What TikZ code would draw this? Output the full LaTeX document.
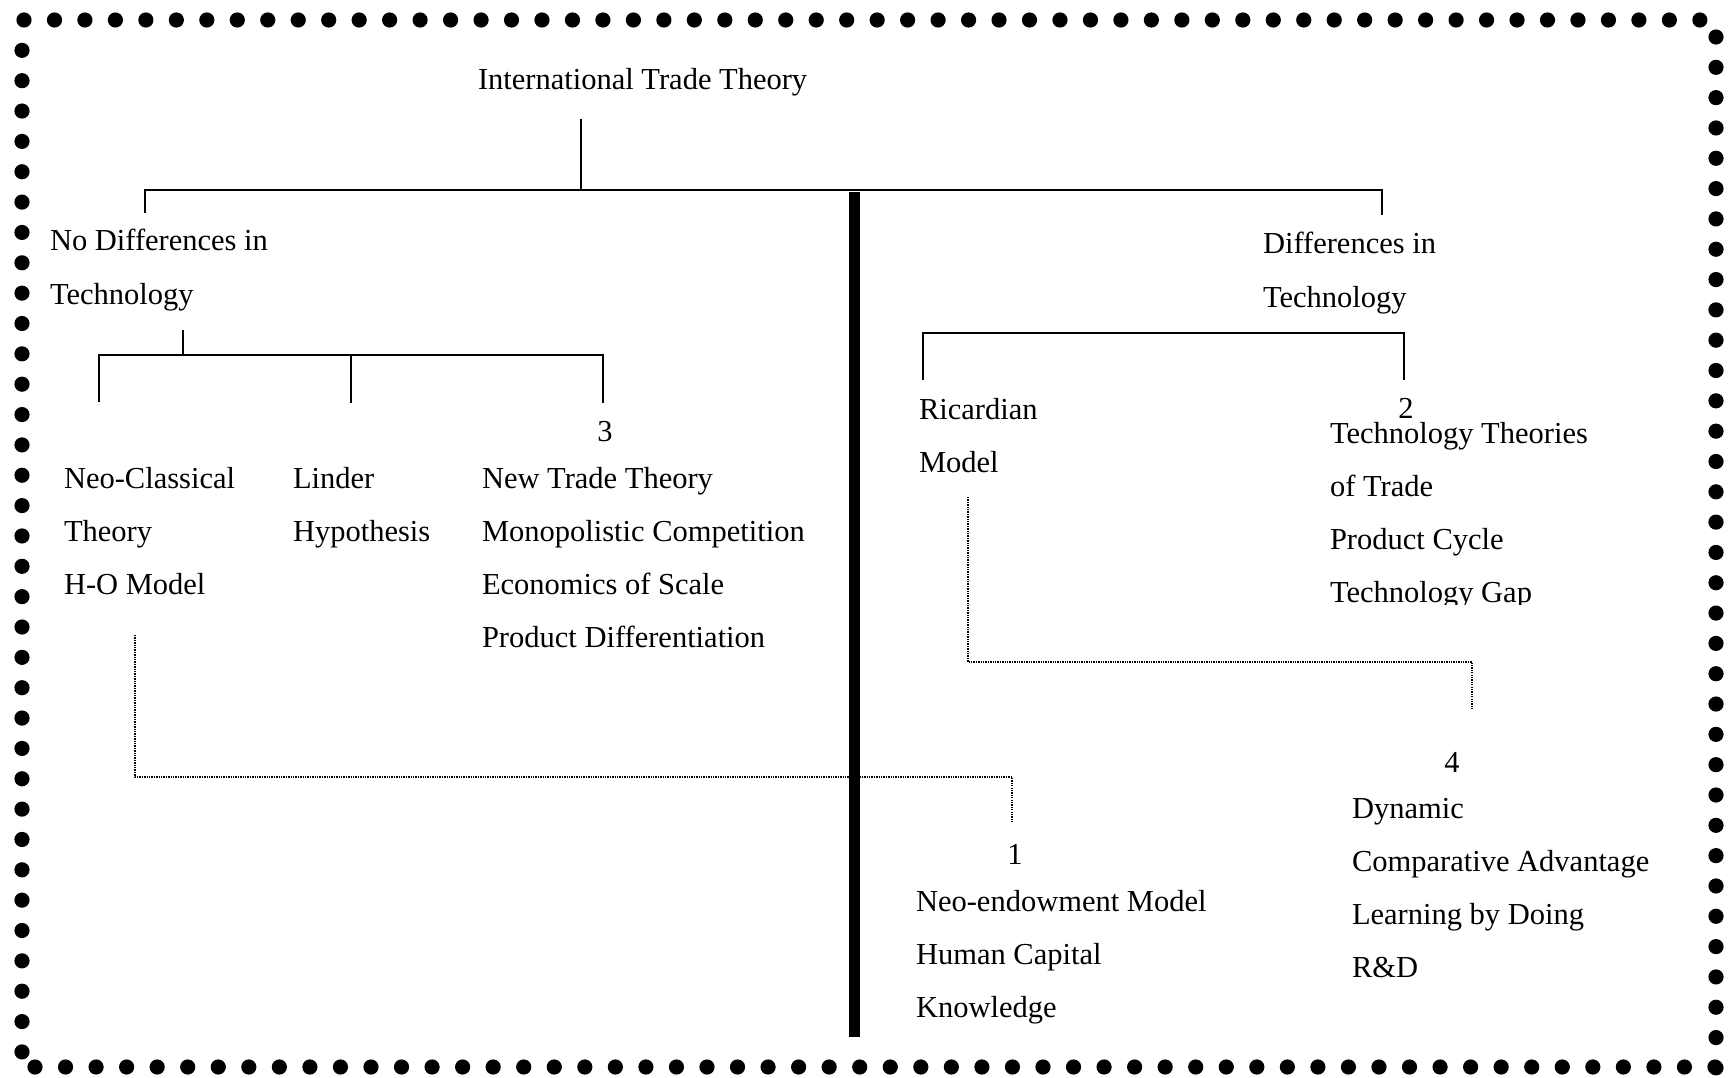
\documentclass[tikz,border=0pt]{standalone}
\usepackage{fontspec}
\setmainfont{Liberation Serif}
% left-aligned stack of lines whose baseline is that of the first line
\newcommand{\txtstack}[1]{\begin{tabular}[t]{@{}l@{}}#1\end{tabular}}
\begin{document}
\begin{tikzpicture}[x=1pt,y=-1pt,
  lbl/.style={inner sep=0pt, outer sep=0pt, font=\fontsize{30.5}{53.3}\selectfont, anchor=base west},
  num/.style={lbl, anchor=base},
  branch/.style={line width=2pt},
  divider/.style={line width=11pt},
  link/.style={line width=2.2pt, dash pattern=on 1.3pt off 1.1pt},
  bead/.style={fill=black}]

\fill[white] (0,0) rectangle (1733,1078);
\useasboundingbox (0,0) rectangle (1733,1078);

% beaded frame
\foreach \i in {0,...,55} \fill[bead] (24+\i*30.47,20) circle (7.6);
\foreach \i in {0,...,34} \fill[bead] (1716,37+\i*30.32) circle (7.6);
\foreach \i in {0,...,55} \fill[bead] (35+\i*30.545,1067) circle (7.6);
\foreach \i in {1,...,34} \fill[bead] (22,20+\i*30.35) circle (7.6);

% labels
\node[lbl] (title) at (478,90) {International Trade Theory};
\node[lbl] (nodiff) at (50,251) {\txtstack{No Differences in\\Technology}};
\node[lbl] (diff) at (1263,254) {\txtstack{Differences in\\Technology}};

\node[lbl] (neo) at (64,488) {\txtstack{Neo-Classical\\Theory\\H-O Model}};
\node[lbl] (linder) at (293,488) {\txtstack{Linder\\Hypothesis}};
\node[num] (three) at (605,441) {3};
\node[lbl] (ntt) at (482,488) {\txtstack{New Trade Theory\\Monopolistic Competition\\Economics of Scale\\Product Differentiation}};

\node[lbl] (ric) at (919,419) {\txtstack{Ricardian\\Model}};
\node[num] (two) at (1406,418) {2};
\begin{scope}
  \clip (1320,400) rectangle (1650,604);
  \node[lbl] (tech) at (1330,443) {\txtstack{Technology Theories\\of Trade\\Product Cycle\\Technology Gap}};
\end{scope}

\node[num] (one) at (1015,864) {1};
\node[lbl] (neoend) at (916,911) {\txtstack{Neo-endowment Model\\Human Capital\\Knowledge}};
\node[num] (four) at (1452,772) {4};
\node[lbl] (dyn) at (1352,818) {\txtstack{Dynamic\\Comparative Advantage\\Learning by Doing\\R\&D}};

% junction points of the tree
\coordinate (rootTop) at (581,119);
\coordinate (rootBar) at (581,190);
\coordinate (barL) at (145,190);
\coordinate (barR) at (1382,190);
\coordinate (dropL) at (145,213);
\coordinate (dropR) at (1382,215);

\coordinate (subTop) at (183,330);
\coordinate (subBar) at (183,355);
\coordinate (subL) at (99,355);
\coordinate (subM) at (351,355);
\coordinate (subR) at (603,355);
\coordinate (subLd) at (99,402);
\coordinate (subMd) at (351,403);
\coordinate (subRd) at (603,403);

\coordinate (rBarL) at (923,333);
\coordinate (rBarR) at (1404,333);
\coordinate (rBarLd) at (923,380);
\coordinate (rBarRd) at (1404,380);

\coordinate (divTop) at (854,192);
\coordinate (divBot) at (854,1037);

\coordinate (hoA) at (135,635);
\coordinate (hoB) at (135,777);
\coordinate (hoC) at (1012,777);
\coordinate (hoD) at (1012,823);

\coordinate (riA) at (968,497);
\coordinate (riB) at (968,662);
\coordinate (riC) at (1472,662);
\coordinate (riD) at (1472,710);

% solid tree
\draw[branch] (rootTop) -- (rootBar);
\draw[branch] (dropL) -- (barL) -- (barR) -- (dropR);
\draw[branch] (subTop) -- (subBar);
\draw[branch] (subLd) -- (subL) -- (subR) -- (subRd);
\draw[branch] (subM) -- (subMd);
\draw[branch] (rBarLd) -- (rBarL) -- (rBarR) -- (rBarRd);

% heavy divider
\draw[divider] (divTop) -- (divBot);

% dotted links
\draw[link] (hoA) -- (hoB) -- (hoC) -- (hoD);
\draw[link] (riA) -- (riB) -- (riC) -- (riD);
\end{tikzpicture}
\end{document}
